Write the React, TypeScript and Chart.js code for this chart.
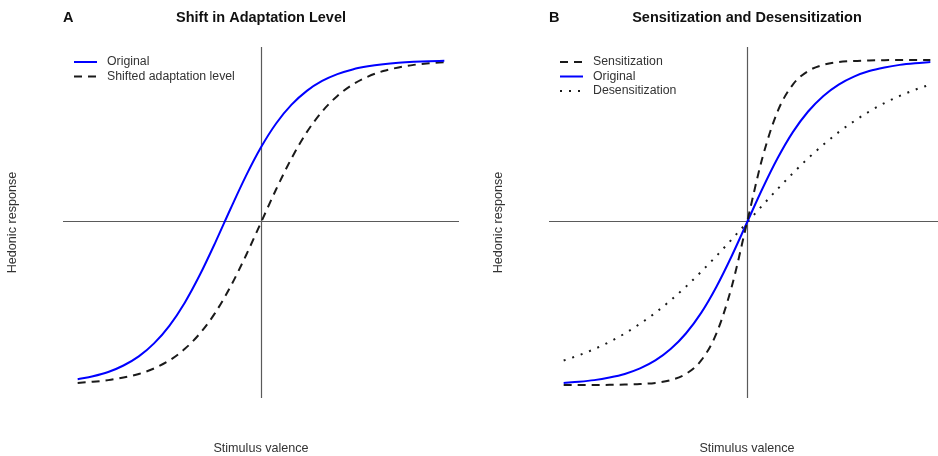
import React, { useEffect, useRef } from "react";
import { Chart, registerables } from "chart.js";

Chart.register(...registerables);

// Stimulus valence sample positions (shared by all curves)
const X_VALUES = [
  -3, -2.75, -2.5, -2.25, -2, -1.75, -1.5, -1.25, -1, -0.75, -0.5, -0.25, 0,
  0.25, 0.5, 0.75, 1, 1.25, 1.5, 1.75, 2, 2.25, 2.5, 2.75, 3,
];

// Panel A: Shift in Adaptation Level
const A_ORIGINAL = [
  -0.964, -0.946, -0.92, -0.88, -0.824, -0.744, -0.636, -0.495, -0.322, -0.125,
  0.083, 0.284, 0.463, 0.611, 0.725, 0.81, 0.871, 0.913, 0.942, 0.961, 0.974,
  0.983, 0.989, 0.993, 0.995,
];
const A_SHIFTED = [
  -0.987, -0.98, -0.97, -0.954, -0.932, -0.898, -0.849, -0.779, -0.683, -0.556,
  -0.395, -0.206, 0, 0.206, 0.395, 0.556, 0.683, 0.779, 0.849, 0.898, 0.932,
  0.954, 0.97, 0.98, 0.987,
];

// Panel B: Sensitization and Desensitization
const B_SENSITIZATION = [
  -1.0, -1.0, -0.9995, -0.999, -0.997, -0.994, -0.987, -0.97, -0.932, -0.849,
  -0.683, -0.395, 0, 0.395, 0.683, 0.849, 0.932, 0.97, 0.987, 0.994, 0.997,
  0.999, 0.9995, 1.0, 1.0,
];
const B_ORIGINAL = [
  -0.987, -0.98, -0.97, -0.954, -0.932, -0.898, -0.849, -0.779, -0.683, -0.556,
  -0.395, -0.206, 0, 0.206, 0.395, 0.556, 0.683, 0.779, 0.849, 0.898, 0.932,
  0.954, 0.97, 0.98, 0.987,
];
const B_DESENSITIZATION = [
  -0.849, -0.817, -0.779, -0.735, -0.683, -0.623, -0.556, -0.479, -0.395, -0.303,
  -0.206, -0.104, 0, 0.104, 0.206, 0.303, 0.395, 0.479, 0.556, 0.623, 0.683,
  0.735, 0.779, 0.817, 0.849,
];

const X_LABEL = "Stimulus valence";
const Y_LABEL = "Hedonic response";

const FONT = '"Liberation Sans", Arial, sans-serif';
const BLUE = "#0000ff";
const BLACK = "#1a1a1a";

type Series = {
  label: string;
  values: number[];
  color: string;
  dash: number[];
};

type PanelSpec = {
  letter: string;
  title: string;
  series: Series[];
};

const PANEL_A: PanelSpec = {
  letter: "A",
  title: "Shift in Adaptation Level",
  series: [
    { label: "Original", values: A_ORIGINAL, color: BLUE, dash: [] },
    { label: "Shifted adaptation level", values: A_SHIFTED, color: BLACK, dash: [8, 6] },
  ],
};

const PANEL_B: PanelSpec = {
  letter: "B",
  title: "Sensitization and Desensitization",
  series: [
    { label: "Sensitization", values: B_SENSITIZATION, color: BLACK, dash: [8, 6] },
    { label: "Original", values: B_ORIGINAL, color: BLUE, dash: [] },
    { label: "Desensitization", values: B_DESENSITIZATION, color: BLACK, dash: [2, 7] },
  ],
};

const decorPlugin = {
  id: "panelDecor",
  beforeDatasetsDraw(chart: any) {
    const { ctx, chartArea, scales } = chart;
    const x0 = scales.x.getPixelForValue(0);
    const y0 = scales.y.getPixelForValue(0);
    ctx.save();
    ctx.strokeStyle = "#5a5a5a";
    ctx.lineWidth = 1.2;
    ctx.beginPath();
    ctx.moveTo(chartArea.left, Math.floor(y0) - 0.5);
    ctx.lineTo(chartArea.right, Math.floor(y0) - 0.5);
    ctx.moveTo(Math.round(x0) + 0.5, chartArea.top);
    ctx.lineTo(Math.round(x0) + 0.5, chartArea.bottom);
    ctx.stroke();
    ctx.restore();
  },
  afterDraw(chart: any, _args: any, opts: any) {
    const { ctx, chartArea } = chart;
    const spec: PanelSpec = opts.spec;
    const cx = (chartArea.left + chartArea.right) / 2;
    const cy = (chartArea.top + chartArea.bottom) / 2;
    ctx.save();
    // titles
    ctx.fillStyle = "#111111";
    ctx.font = `bold 14.5px ${FONT}`;
    ctx.textBaseline = "middle";
    ctx.textAlign = "left";
    ctx.fillText(spec.letter, chartArea.left, 18);
    ctx.textAlign = "center";
    ctx.fillText(spec.title, cx, 18);
    // axis labels
    ctx.fillStyle = "#333333";
    ctx.font = `12.6px ${FONT}`;
    ctx.fillText(X_LABEL, cx, 449);
    ctx.save();
    ctx.translate(13, cy);
    ctx.rotate(-Math.PI / 2);
    ctx.fillText(Y_LABEL, 0, 0);
    ctx.restore();
    // legend
    ctx.textAlign = "left";
    ctx.font = `12.3px ${FONT}`;
    spec.series.forEach((s, i) => {
      const y = 62 + i * 14.5;
      ctx.strokeStyle = s.color;
      ctx.lineWidth = 2;
      ctx.setLineDash(s.dash);
      ctx.beginPath();
      ctx.moveTo(74, y);
      ctx.lineTo(97, y);
      ctx.stroke();
      ctx.setLineDash([]);
      ctx.fillStyle = "#333333";
      ctx.fillText(s.label, 107, y);
    });
    ctx.restore();
  },
};

function Panel({ spec }: { spec: PanelSpec }) {
  const ref = useRef<HTMLCanvasElement | null>(null);
  useEffect(() => {
    if (!ref.current) return;
    const chart = new Chart(ref.current, {
      type: "line",
      data: {
        datasets: spec.series.map((s) => ({
          label: s.label,
          data: X_VALUES.map((x, i) => ({ x, y: s.values[i] })),
          borderColor: s.color,
          borderWidth: 2,
          borderDash: s.dash,
          pointRadius: 0,
          fill: false,
          cubicInterpolationMode: "monotone" as const,
        })),
      },
      options: {
        responsive: false,
        animation: false,
        events: [],
        layout: { padding: { left: 63, right: 27, top: 47, bottom: 58 } },
        scales: {
          x: { type: "linear", min: -3.24, max: 3.24, display: false },
          y: { type: "linear", min: -1.08, max: 1.08, display: false },
        },
        plugins: {
          legend: { display: false },
          title: { display: false },
          tooltip: { enabled: false },
          panelDecor: { spec },
        } as any,
      },
      plugins: [decorPlugin],
    });
    return () => chart.destroy();
  }, [spec]);
  return <canvas ref={ref} width={486} height={456} style={{ display: "block", flex: "0 0 auto" }} />;
}

export default function App() {
  useEffect(() => {
    document.body.style.margin = "0";
    document.body.style.background = "#ffffff";
  }, []);
  return (
    <div
      style={{
        position: "absolute",
        left: 0,
        top: 0,
        width: 938,
        height: 456,
        overflow: "hidden",
        display: "flex",
        background: "#ffffff",
      }}
    >
      <Panel spec={PANEL_A} />
      <Panel spec={PANEL_B} />
    </div>
  );
}
